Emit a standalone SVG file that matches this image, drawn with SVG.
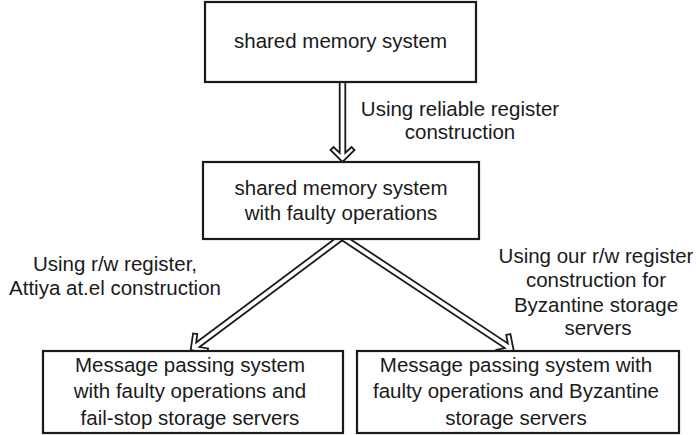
<svg xmlns="http://www.w3.org/2000/svg" width="696" height="435" viewBox="0 0 696 435">
<style>
.box{fill:#fff;stroke:#1a1a1a;stroke-width:2.2}
.arr{fill:#fff;stroke:#1a1a1a;stroke-width:1.8;stroke-linejoin:miter}
text{font-family:"Liberation Sans",Arial,sans-serif;font-size:20.5px;fill:#1a1a1a;text-anchor:middle}
</style>
<rect width="696" height="435" fill="#fff"/>
<g id="connectors">
<path class="arr" transform="translate(342.5,80) rotate(90)" d="M0,-2.8 L73,-2.8 L67,-9 L70,-12 L82,0 L70,12 L67,9 L73,2.8 L0,2.8 Z"/>
<path class="arr" transform="translate(342,237) rotate(143.2)" d="M0,-2.8 L180,-2.8 L174,-9 L177,-12 L189,0 L177,12 L174,9 L180,2.8 L0,2.8 Z"/>
<path class="arr" transform="translate(342,237) rotate(33.5)" d="M0,-2.8 L197,-2.8 L191,-9 L194,-12 L206,0 L194,12 L191,9 L197,2.8 L0,2.8 Z"/>
</g>
<g id="n1">
<rect class="box" x="205" y="2" width="271" height="80"/>
<text x="340.5" y="48">shared memory system</text>
</g>
<g id="n2">
<rect class="box" x="203" y="162" width="276" height="77"/>
<text x="341" y="195">shared memory system</text>
<text x="341" y="220">with faulty operations</text>
</g>
<g id="n3">
<rect class="box" x="43" y="351" width="300" height="82"/>
<text x="190" y="372">Message passing system</text>
<text x="190" y="398">with faulty operations and</text>
<text x="190" y="425">fail-stop storage servers</text>
</g>
<g id="n4">
<rect class="box" x="357" y="351" width="322" height="82"/>
<text x="516" y="372">Message passing system with</text>
<text x="516" y="398">faulty operations and Byzantine</text>
<text x="516" y="425">storage servers</text>
</g>
<g id="labels">
<text x="460" y="116">Using reliable register</text>
<text x="460" y="139">construction</text>
<text x="115" y="271">Using r/w register,</text>
<text x="115" y="295">Attiya at.el construction</text>
<text x="596" y="263">Using our r/w register</text>
<text x="596" y="287">construction for</text>
<text x="596" y="312">Byzantine storage</text>
<text x="598" y="335">servers</text>
</g>
</svg>
